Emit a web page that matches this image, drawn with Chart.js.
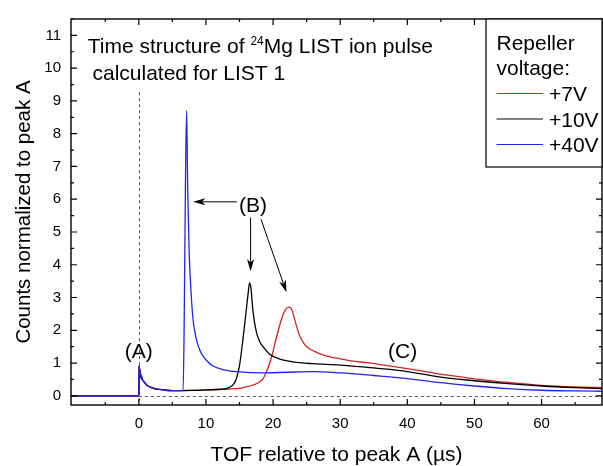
<!DOCTYPE html>
<html><head><meta charset="utf-8">
<script src="https://cdn.jsdelivr.net/npm/chart.js@4.4.1/dist/chart.umd.min.js"></script>
<style>html,body{margin:0;padding:0;background:#fff}</style>
</head><body>
<canvas id="c" width="603" height="466"></canvas>
<script>
// ---------- data ----------
const seriesLabels = ['+7V', '+10V', '+40V'];
const seriesColors = ['#d42323', '#000000', '#2424f0'];

// common part (before the B peaks), peak A at x = 0
const earlyX = [-10.1, -0.05, 0, 0.05, 0.1, 0.15, 0.2, 0.25, 0.3, 0.4, 0.5, 0.6, 0.8, 1.0, 1.3, 1.7, 2.2, 3, 4, 5, 6];
const earlyY = [0, 0, 0, 0.92, 0.7, 0.82, 0.6, 0.72, 0.55, 0.6, 0.5, 0.48, 0.42, 0.37, 0.31, 0.27, 0.23, 0.2, 0.17, 0.16, 0.16];

const redX = [8, 10, 12, 13, 14, 15, 16, 17, 18, 18.5, 19, 19.5, 20, 20.5, 21, 21.5, 22, 22.4, 22.8, 23.2, 23.6, 24, 24.5, 25, 26, 27, 28, 30, 32, 34, 37, 40, 43, 46, 50, 55, 60, 65, 69];
const redY = [0.165, 0.175, 0.19, 0.2, 0.21, 0.23, 0.27, 0.33, 0.42, 0.52, 0.72, 1.0, 1.36, 1.78, 2.16, 2.48, 2.67, 2.71, 2.63, 2.35, 2.05, 1.82, 1.63, 1.5, 1.37, 1.28, 1.21, 1.13, 1.06, 1.01, 0.92, 0.83, 0.73, 0.63, 0.52, 0.41, 0.32, 0.27, 0.25];

const blackX = [8, 10, 12, 13, 13.5, 14, 14.5, 15, 15.5, 16, 16.3, 16.5, 16.7, 17, 17.5, 18, 18.5, 19.5, 21, 23.5, 26, 30, 34, 39, 45, 50, 55, 60, 65, 69];
const blackY = [0.165, 0.18, 0.2, 0.22, 0.26, 0.33, 0.5, 0.92, 1.7, 2.6, 3.15, 3.45, 3.3, 2.6, 1.96, 1.66, 1.5, 1.27, 1.12, 1.02, 0.98, 0.94, 0.87, 0.77, 0.57, 0.46, 0.37, 0.3, 0.25, 0.22];

const blueX = [6.6, 6.75, 6.95, 7.12, 7.28, 7.5, 7.8, 8.1, 8.5, 9.1, 10, 11, 12.5, 15, 18.5, 22, 26, 30, 35, 39, 45, 50, 55, 60, 65, 69];
const blueY = [0.16, 2.0, 6.5, 8.7, 6.4, 4.4, 3.1, 2.3, 1.8, 1.38, 1.1, 0.92, 0.8, 0.73, 0.7, 0.72, 0.74, 0.7, 0.62, 0.55, 0.4, 0.3, 0.22, 0.17, 0.15, 0.14];

const xTickValues = [0, 10, 20, 30, 40, 50, 60];
const yTickValues = [0, 1, 2, 3, 4, 5, 6, 7, 8, 9, 10, 11];
const xRange = [-10.1, 69];
const yRange = [-0.28, 11.5];

const FONT = "'Liberation Sans', Arial, sans-serif";

function pts(xs, ys) {
  const a = earlyX.map((x, i) => ({x, y: earlyY[i]}));
  return a.concat(xs.map((x, i) => ({x, y: ys[i]})));
}

// ---------- plugins ----------
const framePlugin = {
  id: 'frame',
  beforeDatasetsDraw(chart) {
    const {ctx, chartArea: a, scales: {x, y}} = chart;
    ctx.save();
    ctx.strokeStyle = '#555';
    ctx.lineWidth = 1;
    ctx.setLineDash([3, 3]);
    ctx.beginPath();
    ctx.moveTo(x.getPixelForValue(0), Math.round(y.getPixelForValue(0)) + 0.5);
    ctx.lineTo(a.right, Math.round(y.getPixelForValue(0)) + 0.5);
    ctx.stroke();
    ctx.beginPath();
    ctx.moveTo(Math.round(x.getPixelForValue(0)) + 0.5, y.getPixelForValue(9.27));
    ctx.lineTo(Math.round(x.getPixelForValue(0)) + 0.5, a.bottom);
    ctx.stroke();
    ctx.restore();
  },
  afterDatasetsDraw(chart) {
    const {ctx, chartArea: a, scales: {x, y}} = chart;
    ctx.save();
    ctx.strokeStyle = '#000';
    ctx.lineWidth = 1.4;
    ctx.strokeRect(a.left, a.top, a.right - a.left, a.bottom - a.top);
    ctx.lineWidth = 1.2;
    ctx.beginPath();
    for (let v = -5; v <= 65; v += 5) {
      const px = x.getPixelForValue(v);
      const len = (v % 10 === 0) ? 6 : 3;
      ctx.moveTo(px, a.bottom); ctx.lineTo(px, a.bottom - len);
      ctx.moveTo(px, a.top); ctx.lineTo(px, a.top + len);
    }
    for (let v = 0; v <= 11.5; v += 0.5) {
      const py = y.getPixelForValue(v);
      const len = (v % 1 === 0) ? 6 : 3;
      ctx.moveTo(a.left, py); ctx.lineTo(a.left + len, py);
      ctx.moveTo(a.right, py); ctx.lineTo(a.right - len, py);
    }
    ctx.stroke();

    // annotations
    ctx.fillStyle = '#000';
    ctx.textBaseline = 'alphabetic';
    ctx.font = '21px ' + FONT;
    ctx.textAlign = 'left';
    let tx = x.getPixelForValue(-7.6), ty = y.getPixelForValue(10.45);
    const s1 = 'Time structure of ';
    ctx.fillText(s1, tx, ty);
    tx += ctx.measureText(s1).width;
    ctx.font = '12px ' + FONT;
    ctx.fillText('24', tx, ty - 8);
    tx += ctx.measureText('24').width;
    ctx.font = '21px ' + FONT;
    ctx.fillText('Mg LIST ion pulse', tx, ty);
    ctx.fillText('calculated for LIST 1', x.getPixelForValue(-6.9), y.getPixelForValue(9.65));

    ctx.textAlign = 'center';
    ctx.fillText('(A)', x.getPixelForValue(0), y.getPixelForValue(1.16));
    ctx.fillText('(B)', x.getPixelForValue(17.0), y.getPixelForValue(5.6));
    ctx.fillText('(C)', x.getPixelForValue(39.3), y.getPixelForValue(1.16));

    function arrow(x0, y0, x1, y1) {
      const X0 = x.getPixelForValue(x0), Y0 = y.getPixelForValue(y0);
      const X1 = x.getPixelForValue(x1), Y1 = y.getPixelForValue(y1);
      const ang = Math.atan2(Y1 - Y0, X1 - X0);
      const L = 12, W = 3.5;
      ctx.beginPath();
      ctx.lineWidth = 1;
      ctx.moveTo(X0, Y0);
      ctx.lineTo(X1 - Math.cos(ang) * L * 0.8, Y1 - Math.sin(ang) * L * 0.8);
      ctx.stroke();
      ctx.beginPath();
      ctx.moveTo(X1, Y1);
      ctx.lineTo(X1 - Math.cos(ang) * L - Math.sin(ang) * W, Y1 - Math.sin(ang) * L + Math.cos(ang) * W);
      ctx.lineTo(X1 - Math.cos(ang) * L * 0.75, Y1 - Math.sin(ang) * L * 0.75);
      ctx.lineTo(X1 - Math.cos(ang) * L + Math.sin(ang) * W, Y1 - Math.sin(ang) * L - Math.cos(ang) * W);
      ctx.closePath();
      ctx.fill();
    }
    ctx.strokeStyle = '#000';
    arrow(14.6, 5.92, 8.1, 5.92);
    arrow(16.65, 5.44, 16.65, 3.8);
    arrow(18.2, 5.39, 22.0, 3.16);

    // legend box
    const lx = a.right - 116, ly = a.top, lw = 116, lh = 148;
    ctx.fillStyle = '#fff';
    ctx.fillRect(lx, ly, lw, lh);
    ctx.lineWidth = 1.2;
    ctx.strokeStyle = '#000';
    ctx.strokeRect(lx, ly, lw, lh);
    ctx.fillStyle = '#000';
    ctx.textAlign = 'left';
    ctx.font = '21px ' + FONT;
    ctx.fillText('Repeller', lx + 10.5, ly + 30.5);
    ctx.fillText('voltage:', lx + 10.5, ly + 55.5);
    chart.data.datasets.forEach((ds, i) => {
      const yy = ly + 74 + i * 25.5;
      ctx.strokeStyle = ds.borderColor;
      ctx.lineWidth = 1;
      ctx.beginPath();
      ctx.moveTo(lx + 10.5, yy + 0.5); ctx.lineTo(lx + 57, yy + 0.5);
      ctx.stroke();
      ctx.fillText(ds.label, lx + 63, yy + 8);
    });
    ctx.restore();
  }
};

const datasets = [
  {label: seriesLabels[0], data: pts(redX, redY), borderColor: seriesColors[0], order: 2},
  {label: seriesLabels[1], data: pts(blackX, blackY), borderColor: seriesColors[1], order: 1},
  {label: seriesLabels[2], data: pts(blueX, blueY), borderColor: seriesColors[2], order: 0}
];
datasets.forEach(d => { d.borderWidth = 1.3; d.pointRadius = 0; d.fill = false; d.cubicInterpolationMode = 'monotone'; });

new Chart(document.getElementById('c'), {
  type: 'line',
  data: {datasets},
  options: {
    responsive: false,
    animation: false,
    layout: {padding: {top: 11, right: 1, left: 0, bottom: 0}},
    plugins: {legend: {display: false}, tooltip: {enabled: false}},
    scales: {
      x: {
        type: 'linear', min: xRange[0], max: xRange[1],
        afterBuildTicks: s => { s.ticks = xTickValues.map(v => ({value: v})); },
        afterFit: s => { s.height = 61; },
        grid: {display: false, drawTicks: false},
        border: {display: false},
        ticks: {padding: 10, color: '#000', font: {family: FONT, size: 15}, callback: v => String(v)},
        title: {display: true, text: 'TOF relative to peak A (µs)', color: '#000', font: {family: FONT, size: 21, lineHeight: 1}, padding: {top: 0, bottom: 0}}
      },
      y: {
        type: 'linear', min: yRange[0], max: yRange[1],
        afterBuildTicks: s => { s.ticks = yTickValues.map(v => ({value: v})); },
        afterFit: s => { s.width = 71; },
        grid: {display: false, drawTicks: false},
        border: {display: false},
        ticks: {padding: 10, color: '#000', font: {family: FONT, size: 15}, callback: v => String(v)},
        title: {display: true, text: 'Counts normalized to peak A', color: '#000', font: {family: FONT, size: 20.5, lineHeight: 1}, padding: {top: 14, bottom: 0}}
      }
    }
  },
  plugins: [framePlugin]
});
</script>
</body></html>
